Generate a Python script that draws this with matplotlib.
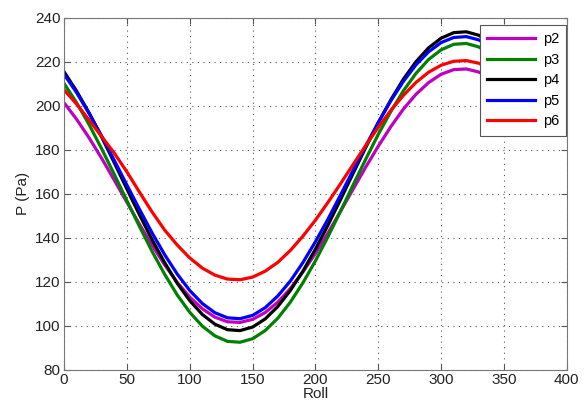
import matplotlib
matplotlib.use('Agg')
import matplotlib.pyplot as plt

plt.rcParams['font.family'] = ['Liberation Sans', 'DejaVu Sans']

# Roll angle samples and pressure readings (Pa) for each probe
roll = [0, 10, 20, 30, 40, 50, 60, 70, 80, 90, 100, 110, 120, 130, 140, 150, 160, 170, 180,
        190, 200, 210, 220, 230, 240, 250, 260, 270, 280, 290, 300, 310, 320, 330, 340, 350, 360]

p2 = [201.4, 193.9, 185.4, 176.1, 166.2, 156.2, 146.2, 136.7, 127.8, 119.8, 113.1, 107.8, 104.0,
      101.9, 101.6, 103.0, 106.1, 110.8, 117.0, 124.5, 133.0, 142.3, 152.2, 162.2, 172.2, 181.7,
      190.6, 198.6, 205.3, 210.6, 214.4, 216.5, 216.8, 215.4, 212.3, 207.6, 201.4]
p3 = [210.2, 201.4, 191.4, 180.4, 168.8, 156.9, 145.2, 133.9, 123.5, 114.1, 106.2, 99.9, 95.5,
      93.0, 92.6, 94.2, 97.9, 103.5, 110.8, 119.6, 129.6, 140.6, 152.2, 164.1, 175.8, 187.1,
      197.5, 206.9, 214.8, 221.1, 225.5, 228.0, 228.4, 226.8, 223.1, 217.5, 210.2]
p4 = [215.5, 206.7, 196.7, 185.7, 174.1, 162.2, 150.5, 139.2, 128.8, 119.4, 111.5, 105.2, 100.8,
      98.3, 97.9, 99.5, 103.2, 108.8, 116.1, 124.9, 134.9, 145.9, 157.5, 169.4, 181.1, 192.4,
      202.8, 212.2, 220.1, 226.4, 230.8, 233.3, 233.7, 232.1, 228.4, 222.8, 215.5]
p5 = [214.4, 206.0, 196.5, 186.2, 175.2, 164.0, 153.0, 142.3, 132.4, 123.6, 116.1, 110.2, 106.0,
      103.7, 103.3, 104.8, 108.3, 113.6, 120.4, 128.8, 138.3, 148.6, 159.6, 170.8, 181.8, 192.5,
      202.4, 211.2, 218.7, 224.6, 228.8, 231.1, 231.5, 230.0, 226.5, 221.2, 214.4]
p6 = [207.3, 200.8, 193.5, 186.0, 178.5, 170.0, 160.8, 151.8, 143.6, 136.8, 130.9, 126.3, 123.1,
      121.3, 121.0, 122.2, 124.9, 128.9, 134.3, 140.8, 148.1, 156.2, 164.7, 173.4, 182.0, 190.3,
      198.0, 204.8, 210.7, 215.3, 218.5, 220.3, 220.6, 219.4, 216.7, 212.7, 207.3]

series = [('p2', p2, '#c000c0'), ('p3', p3, '#008000'), ('p4', p4, '#000000'),
          ('p5', p5, '#0000ff'), ('p6', p6, '#ff0000')]

fig = plt.figure(figsize=(5.88, 4.07), dpi=100)
ax = fig.add_axes([0.109, 0.091, 0.855, 0.865])

for name, vals, col in series:
    ax.plot(roll, vals, color=col, linewidth=2.3, label=name)

ax.set_xlim(0, 400)
ax.set_ylim(80, 240)
ax.set_xticks(range(0, 401, 50))
ax.set_yticks(range(80, 241, 20))
ax.grid(True, linestyle=(0, (1, 4)), color='#555555', linewidth=0.8)
ax.tick_params(direction='in', top=True, right=True, labelsize=11, colors='#555555',
               labelcolor='#222222', length=4, pad=2.5)
for sp in ax.spines.values():
    sp.set_color('#777777')

ax.set_xlabel('Roll', fontsize=11, color='#222222', labelpad=0)
ax.set_ylabel('P (Pa)', fontsize=11, color='#222222', labelpad=4)

leg = ax.legend(loc='upper right', bbox_to_anchor=(0.999, 0.98), borderaxespad=0,
                fancybox=False, framealpha=1, edgecolor='#555555', fontsize=10.5,
                handlelength=3.3, labelspacing=0.45, handletextpad=0.5, borderpad=0.5)
leg.get_frame().set_linewidth(0.8)

fig.savefig('out.png', dpi=100)
